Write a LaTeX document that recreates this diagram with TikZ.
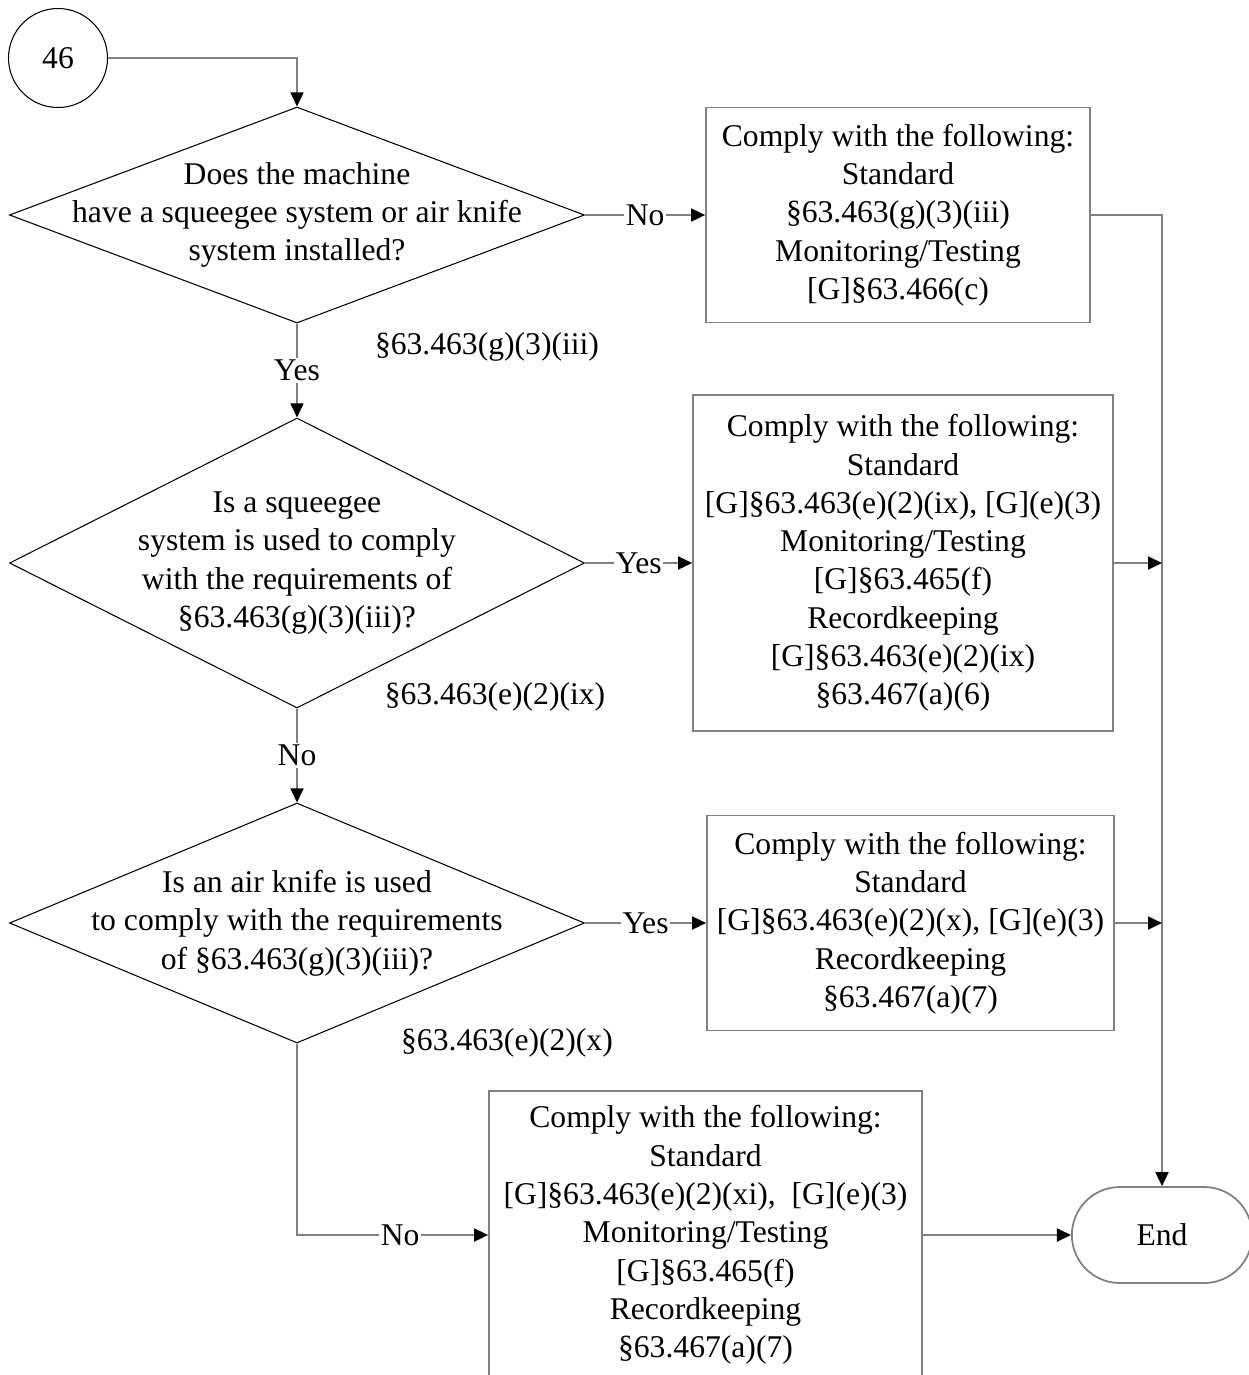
\documentclass[tikz,border=0pt]{standalone}
\usepackage{fontspec}
\setmainfont{Liberation Serif}
\usetikzlibrary{shapes.geometric, shapes.misc, arrows.meta, positioning, calc}

\begin{document}
\begin{tikzpicture}[
  >={Triangle[length=0.28cm, width=0.26cm, color=black]},
  font=\fontsize{18}{21.8}\selectfont,
  line/.style={draw=black!50, line width=1pt},
  box/.style={draw=black!50, line width=1pt, align=center, inner sep=0pt},
  decision/.style={draw, diamond, line width=0.6pt, inner sep=0pt, minimum width=11.5cm},
  qtext/.style={align=center, inner sep=0pt},
  lbl/.style={fill=white, inner sep=1pt},
  ref/.style={inner sep=0pt}
]
\useasboundingbox (0,0) rectangle (24.96,-27.5);

% START
\node[draw, circle, line width=0.6pt, minimum size=1.98cm] (c46) at (1.16,-1.16) {46};

% DECISIONS
\node[decision, minimum height=4.32cm] (q1) at (5.94,-4.30) {};
\node[qtext] at (q1) {Does the machine\\have a squeegee system or air knife\\system installed?};

\node[decision, minimum height=5.8cm] (q2) at (5.94,-11.26) {};
\node[qtext] at (q2) {Is a squeegee\\system is used to comply\\with the requirements of\\§63.463(g)(3)(iii)?};

\node[decision, minimum height=4.8cm] (q3) at (5.94,-18.46) {};
\node[qtext] at (q3) {Is an air knife is used\\to comply with the requirements\\of §63.463(g)(3)(iii)?};

% REFERENCES
\node[ref] at (9.74,-6.94) {§63.463(g)(3)(iii)};
\node[ref] at (9.90,-13.94) {§63.463(e)(2)(ix)};
\node[ref] at (10.14,-20.86) {§63.463(e)(2)(x)};

% REQUIREMENTS
\node[box, minimum width=7.68cm, minimum height=4.3cm] (b1) at (17.96,-4.30)
  {Comply with the following:\\Standard\\§63.463(g)(3)(iii)\\Monitoring/Testing\\{[G]}§63.466(c)};
\node[box, minimum width=8.4cm, minimum height=6.72cm] (b2) at (18.06,-11.26)
  {Comply with the following:\\Standard\\{[G]}§63.463(e)(2)(ix), [G](e)(3)\\Monitoring/Testing\\{[G]}§63.465(f)\\Recordkeeping\\{[G]}§63.463(e)(2)(ix)\\§63.467(a)(6)};
\node[box, minimum width=8.14cm, minimum height=4.3cm] (b3) at (18.21,-18.46)
  {Comply with the following:\\Standard\\{[G]}§63.463(e)(2)(x), [G](e)(3)\\Recordkeeping\\§63.467(a)(7)};
\node[box, minimum width=8.66cm, minimum height=5.76cm] (b4) at (14.11,-24.70)
  {Comply with the following:\\Standard\\{[G]}§63.463(e)(2)(xi),~ [G](e)(3)\\Monitoring/Testing\\{[G]}§63.465(f)\\Recordkeeping\\§63.467(a)(7)};

% END
\node[draw=black!50, line width=1pt, rounded rectangle, minimum width=3.84cm, minimum height=1.92cm] (end) at (23.24,-24.70) {End};

% CONNECTORS
\draw[line, ->] (c46) -| (q1);
\draw[line, ->] (q1) -- node[lbl] {No} (b1);
\draw[line, ->] (q1) -- node[lbl] {Yes} (q2);
\draw[line, ->] (q2) -- node[lbl] {Yes} (b2);
\draw[line, ->] (q2) -- node[lbl] {No} (q3);
\draw[line, ->] (q3) -- node[lbl] {Yes} (b3);
\draw[line, ->] (q3) |- node[lbl, pos=0.77] {No} (b4);
\draw[line, ->] (b1) -| (end);
\draw[line, ->] (b2) -- (b2 -| end);
\draw[line, ->] (b3) -- (b3 -| end);
\draw[line, ->] (b4) -- (end);

\end{tikzpicture}
\end{document}
